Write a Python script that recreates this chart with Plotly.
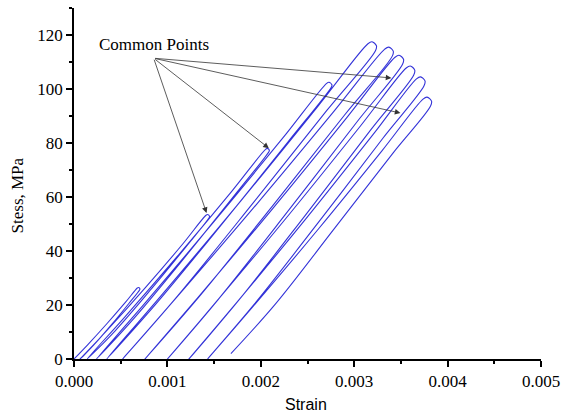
import plotly.graph_objects as go

# ---------------- data (strain, stress in MPa) ----------------
# residual strain where each loading cycle starts (stress 0) and where the last unloading ends
start_strain = [0.0, 0.000065, 0.00014, 0.00024, 0.00035, 0.00052, 0.00076, 0.00100, 0.00123, 0.00143]
start_stress = [0, 0, 0, 0, 0, 0, 0, 0, 0, 0]
end_strain = 0.00168
end_stress = 2.0

# loading branches (low / middle / upper points)
load_lo_strain = [0.000146, 0.000355, 0.000543, 0.000753, 0.000931, 0.001103, 0.001317, 0.001533, 0.001739, 0.001913]
load_lo_stress = [5.26, 10.65, 15.55, 20.42, 23.39, 22.99, 22.39, 21.59, 20.79, 19.29]
load_mid_strain = [0.000354, 0.000769, 0.001127, 0.001503, 0.001784, 0.001959, 0.002134, 0.002314, 0.002484, 0.002619]
load_mid_stress = [13.15, 26.62, 38.87, 51.05, 58.49, 57.49, 55.99, 53.99, 51.99, 48.24]
load_hi_strain = [0.000552, 0.001164, 0.001691, 0.002232, 0.002611, 0.002789, 0.002925, 0.003069, 0.003203, 0.003299]
load_hi_stress = [21.04, 42.59, 62.19, 81.68, 93.58, 91.98, 89.58, 86.38, 83.18, 77.18]

# rounded loop tips: left shoulder, peak, outer tip, right shoulder
tip_left_strain = [0.000678, 0.0014135, 0.0020535, 0.0027053, 0.003147, 0.003327, 0.003437, 0.003557, 0.003667, 0.003737]
tip_left_stress = [26.3, 53.24, 77.74, 102.1, 116.76, 114.76, 111.76, 107.76, 103.76, 96.26]
peak_strain = [0.00069, 0.00143, 0.00207, 0.00273, 0.00319, 0.00337, 0.00348, 0.00360, 0.00371, 0.00378]
peak_stress = [26.5, 53.5, 78.0, 102.5, 117.5, 115.5, 112.5, 108.5, 104.5, 97.0]
tip_out_strain = [0.000706, 0.0014514, 0.0020914, 0.0027621, 0.003238, 0.003418, 0.003528, 0.003648, 0.003758, 0.003828]
tip_out_stress = [25.99, 52.82, 77.32, 101.49, 116.02, 114.02, 111.02, 107.02, 103.02, 95.52]
tip_right_strain = [0.000702, 0.0014465, 0.0020865, 0.0027547, 0.0032276, 0.0034076, 0.0035176, 0.0036376, 0.0037476, 0.0038176]
tip_right_stress = [25.59, 52.28, 76.78, 100.67, 114.17, 112.17, 109.17, 105.17, 101.17, 93.67]

# unloading branches (upper / middle / low points)
unload_hi_strain = [0.000585, 0.001205, 0.001737, 0.002294, 0.002707, 0.002899, 0.003035, 0.003177, 0.003305, 0.003411]
unload_hi_stress = [20.47, 41.82, 61.42, 80.54, 92.06, 90.46, 88.06, 84.86, 81.66, 76.06]
unload_mid_strain = [0.000404, 0.000833, 0.001203, 0.001592, 0.001912, 0.002122, 0.002297, 0.002472, 0.002627, 0.002787]
unload_mid_stress = [12.80, 26.14, 38.39, 50.34, 57.54, 56.54, 55.04, 53.04, 51.04, 48.29]
unload_lo_strain = [0.000210, 0.000441, 0.000649, 0.000871, 0.001101, 0.001329, 0.001543, 0.001751, 0.001933, 0.00216]
unload_lo_stress = [5.12, 10.46, 15.36, 20.13, 23.01, 22.61, 22.01, 21.21, 20.41, 20.51]

x_ticks = [0.000, 0.001, 0.002, 0.003, 0.004, 0.005]
x_tick_labels = ["0.000", "0.001", "0.002", "0.003", "0.004", "0.005"]
y_ticks = [0, 20, 40, 60, 80, 100, 120]

# "Common Points" label and its arrow heads (strain, stress)
label_x, label_y = 0.000853, 111.4
arrow_x = [0.001419, 0.002086, 0.003398, 0.003495]
arrow_y = [54.1, 78.1, 104.1, 91.1]

# ---------------- assemble the continuous loading path ----------------
xs, ys = [], []
for i in range(len(peak_strain)):
    xs += [start_strain[i], load_lo_strain[i], load_mid_strain[i], load_hi_strain[i],
           tip_left_strain[i], peak_strain[i], tip_out_strain[i], tip_right_strain[i],
           unload_hi_strain[i], unload_mid_strain[i], unload_lo_strain[i]]
    ys += [start_stress[i], load_lo_stress[i], load_mid_stress[i], load_hi_stress[i],
           tip_left_stress[i], peak_stress[i], tip_out_stress[i], tip_right_stress[i],
           unload_hi_stress[i], unload_mid_stress[i], unload_lo_stress[i]]
xs.append(end_strain)
ys.append(end_stress)

fig = go.Figure()
fig.add_trace(go.Scatter(x=xs, y=ys, mode="lines",
                         line=dict(color="#3333d8", width=1.1, shape="spline", smoothing=1.0),
                         showlegend=False, hoverinfo="skip", cliponaxis=False))

serif = "Liberation Serif, Times New Roman, serif"
annotations = []
for hx, hy in zip(arrow_x, arrow_y):
    annotations.append(dict(x=hx, y=hy, xref="x", yref="y", ax=label_x, ay=label_y,
                            axref="x", ayref="y", showarrow=True, arrowhead=2, arrowsize=1.4,
                            arrowwidth=0.8, arrowcolor="#333333", text=""))
annotations.append(dict(x=label_x, y=label_y, xref="x", yref="y", text="Common Points",
                        showarrow=False, yanchor="bottom", yshift=2,
                        font=dict(family=serif, size=17, color="black")))
annotations.append(dict(x=0.497, y=-0.131, xref="paper", yref="paper", text="Strain",
                        showarrow=False, xanchor="center", yanchor="middle",
                        font=dict(family="Liberation Sans, Arial, sans-serif", size=16, color="black")))
annotations.append(dict(x=-0.122, y=0.466, xref="paper", yref="paper", text="Stess, MPa",
                        showarrow=False, textangle=-90, xanchor="center", yanchor="middle",
                        font=dict(family=serif, size=17, color="black")))

fig.update_layout(
    width=562, height=414,
    margin=dict(l=74, r=21, t=8, b=55, autoexpand=False),
    paper_bgcolor="white", plot_bgcolor="white",
    annotations=annotations,
    font=dict(family=serif, size=17, color="black"),
)
common_axis = dict(showgrid=False, zeroline=False, showline=True, linecolor="black", linewidth=1.5,
                   ticks="outside", ticklen=6, tickwidth=1.5, tickcolor="black", automargin=False,
                   tickfont=dict(family=serif, size=17, color="black"))
fig.update_xaxes(range=[0, 0.005], tickvals=x_ticks, ticktext=x_tick_labels,
                 minor=dict(ticks="outside", ticklen=3, tickwidth=1.5, tickcolor="black", dtick=0.0005),
                 **common_axis)
fig.update_yaxes(range=[0, 130], tickvals=y_ticks,
                 minor=dict(ticks="outside", ticklen=3, tickwidth=1.5, tickcolor="black", dtick=10),
                 **common_axis)

fig.write_html("out.html", config={"displayModeBar": False},
               post_script="document.body.style.margin='0px'; document.body.style.overflow='hidden';")
